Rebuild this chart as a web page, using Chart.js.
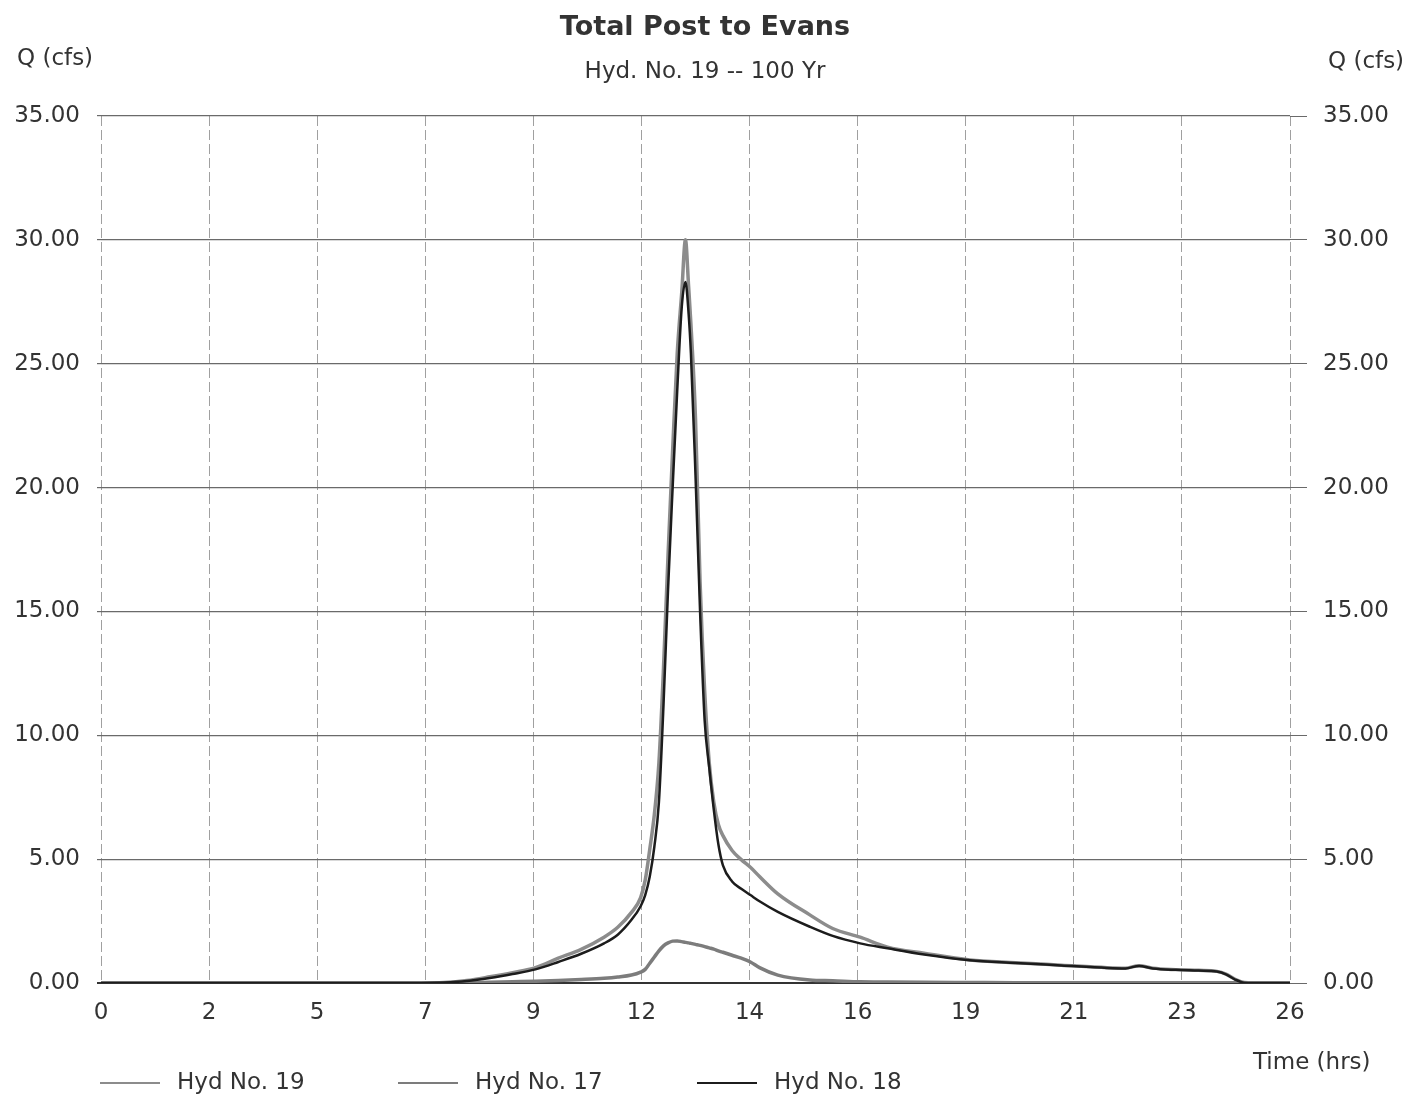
<!DOCTYPE html>
<html>
<head>
<meta charset="utf-8">
<title>Total Post to Evans</title>
<script src="https://cdn.jsdelivr.net/npm/chart.js@4.4.1/dist/chart.umd.min.js"></script>
<style>
  html, body { margin: 0; padding: 0; background: #fff; }
  #wrap { width: 1413px; height: 1097px; position: relative; }
</style>
</head>
<body>
<div id="wrap"><canvas id="hydChart"></canvas></div>
<script>
// Hydrograph data (hrs / cfs)
const times = [0, 7.0, 7.5, 8.0, 8.5, 9.0, 9.5, 10.0, 10.5, 11.0,
  11.3, 11.6, 11.8, 11.9, 12.0, 12.1, 12.2, 12.3, 12.4, 12.5,
  12.6, 12.7, 12.78, 12.85, 12.9, 13.0, 13.1, 13.2, 13.3, 13.4,
  13.5, 13.6, 13.8, 14.0, 14.2, 14.4, 14.8, 15.5, 16.0, 16.6,
  17.2, 18.0, 19.0, 20.0, 21.0, 22.0, 22.4, 22.7, 23.0, 23.5,
  24.0, 24.4, 24.6, 24.8, 25.0, 25.2, 26.0];

const hyd19 = [0, 0, 0.02, 0.1, 0.25, 0.42, 0.62, 1.0, 1.36, 1.85,
  2.25, 2.85, 3.45, 4.15, 5.4, 6.8, 8.9, 12.7, 17.3, 21.5,
  25.4, 27.9, 30.0, 28.1, 26.6, 22.8, 16.2, 11.8, 8.9, 7.3,
  6.4, 5.95, 5.35, 4.98, 4.67, 4.3, 3.6, 2.75, 2.2, 1.85,
  1.45, 1.2, 0.93, 0.82, 0.72, 0.62, 0.6, 0.7, 0.6, 0.54,
  0.51, 0.47, 0.36, 0.15, 0.02, 0, 0];

const hyd17 = [0, 0, 0, 0.01, 0.03, 0.05, 0.07, 0.1, 0.14, 0.19,
  0.24, 0.32, 0.44, 0.55, 0.8, 1.05, 1.3, 1.5, 1.62, 1.69,
  1.7, 1.67, 1.64, 1.62, 1.6, 1.56, 1.52, 1.47, 1.42, 1.37,
  1.3, 1.24, 1.12, 1.0, 0.85, 0.62, 0.32, 0.12, 0.09, 0.05,
  0.04, 0.03, 0.02, 0.01, 0.01, 0.01, 0.01, 0.01, 0.01, 0.01,
  0.01, 0.01, 0.01, 0.01, 0, 0, 0];

const hyd18 = [0, 0, 0.02, 0.08, 0.2, 0.36, 0.55, 0.85, 1.18, 1.6,
  1.95, 2.55, 3.1, 3.55, 4.3, 5.5, 7.3, 11.2, 15.9, 20.0,
  23.9, 27.3, 28.3, 27.0, 25.4, 20.5, 15.0, 10.6, 8.7, 7.0,
  5.6, 4.75, 4.1, 3.8, 3.55, 3.3, 2.87, 2.27, 1.9, 1.6,
  1.4, 1.15, 0.92, 0.81, 0.71, 0.61, 0.59, 0.69, 0.59, 0.53,
  0.5, 0.46, 0.35, 0.14, 0.01, 0, 0];

const seriesNames = ["Hyd No. 19", "Hyd No. 17", "Hyd No. 18"];
const xTickLabels = ["0", "2", "5", "7", "9", "12", "14", "16", "19", "21", "23", "26"];
const X_MAX = 26;
const Y_MAX = 35;

const chartTitle = "Total Post to Evans";
const chartSubtitle = "Hyd. No. 19 -- 100 Yr";
const yTitle = "Q (cfs)";
const xTitle = "Time (hrs)";

const FONT = "'DejaVu Sans', sans-serif";
Chart.defaults.font.family = FONT;
Chart.defaults.color = "#333";

function toPoints(values) {
  return times.map((t, i) => ({ x: t, y: values[i] }));
}

// titles, axis captions and the legend row
const hydTextPlugin = {
  id: "hydText",
  afterDraw: (chart) => {
    const ctx = chart.ctx;
    ctx.save();
    ctx.fillStyle = "#333";
    ctx.textBaseline = "middle";
    ctx.textAlign = "center";
    ctx.font = `bold 27px ${FONT}`;
    ctx.fillText(chartTitle, 705, 28);
    ctx.font = `23px ${FONT}`;
    ctx.fillText(chartSubtitle, 705, 72);

    ctx.textAlign = "left";
    ctx.fillText(yTitle, 17, 59);
    ctx.fillText(yTitle, 1328, 62);
    ctx.fillText(xTitle, 1253, 1063);

    const legendX = [100, 398, 697];
    chart.data.datasets.forEach((ds, i) => {
      const x = legendX[i];
      ctx.beginPath();
      ctx.strokeStyle = ds.borderColor;
      ctx.lineWidth = 2;
      ctx.moveTo(x, 1083);
      ctx.lineTo(x + 60, 1083);
      ctx.stroke();
      ctx.fillStyle = "#333";
      ctx.fillText(ds.label, x + 77, 1083);
    });
    ctx.restore();
  },
};

const hGridColor = (c) => (c.tick && c.tick.value === 0 ? "#333" : "#6a6a6a");
const hGridWidth = (c) => (c.tick && c.tick.value === 0 ? 2 : 1.2);

const chart = new Chart(document.getElementById("hydChart"), {
  type: "line",
  data: {
    datasets: [
      {
        label: seriesNames[0],
        data: toPoints(hyd19),
        borderColor: "#8c8c8c",
        borderWidth: 3.5,
        order: 2,
      },
      {
        label: seriesNames[1],
        data: toPoints(hyd17),
        borderColor: "#7c7c7c",
        borderWidth: 3.5,
        order: 3,
      },
      {
        label: seriesNames[2],
        data: toPoints(hyd18),
        borderColor: "#1c1c1c",
        borderWidth: 2.5,
        order: 1,
      },
    ],
  },
  options: {
    responsive: true,
    maintainAspectRatio: false,
    animation: false,
    layout: { padding: { top: 116, left: 0, right: 0, bottom: 0 } },
    elements: {
      point: { radius: 0 },
      line: { cubicInterpolationMode: "monotone", fill: false },
    },
    plugins: {
      legend: { display: false },
      title: { display: false },
      tooltip: { enabled: false },
    },
    scales: {
      x: {
        type: "linear",
        min: 0,
        max: X_MAX,
        afterBuildTicks: (scale) => {
          scale.ticks = xTickLabels.map((l, i) => ({
            value: (i * X_MAX) / (xTickLabels.length - 1),
          }));
        },
        afterFit: (scale) => {
          scale.height = 114;
        },
        ticks: {
          autoSkip: false,
          maxRotation: 0,
          padding: 16,
          color: "#333",
          font: { size: 23 },
          callback: (value, index) => xTickLabels[index],
        },
        grid: { color: "#a0a0a0", lineWidth: 1, drawTicks: false },
        border: { display: false, dash: [10, 4] },
      },
      y: {
        position: "left",
        min: 0,
        max: Y_MAX,
        afterFit: (scale) => {
          scale.width = 101;
        },
        ticks: {
          stepSize: 5,
          padding: 17,
          color: "#333",
          font: { size: 23 },
          callback: (v) => Number(v).toFixed(2),
        },
        grid: { color: hGridColor, lineWidth: hGridWidth, tickLength: 4 },
        border: { display: false },
      },
      y2: {
        position: "right",
        min: 0,
        max: Y_MAX,
        afterFit: (scale) => {
          scale.width = 123;
        },
        ticks: {
          stepSize: 5,
          padding: 16,
          color: "#333",
          font: { size: 23 },
          callback: (v) => Number(v).toFixed(2),
        },
        grid: { drawOnChartArea: false, color: "#6a6a6a", tickLength: 17 },
        border: { display: false },
      },
    },
  },
  plugins: [hydTextPlugin],
});
</script>
</body>
</html>
